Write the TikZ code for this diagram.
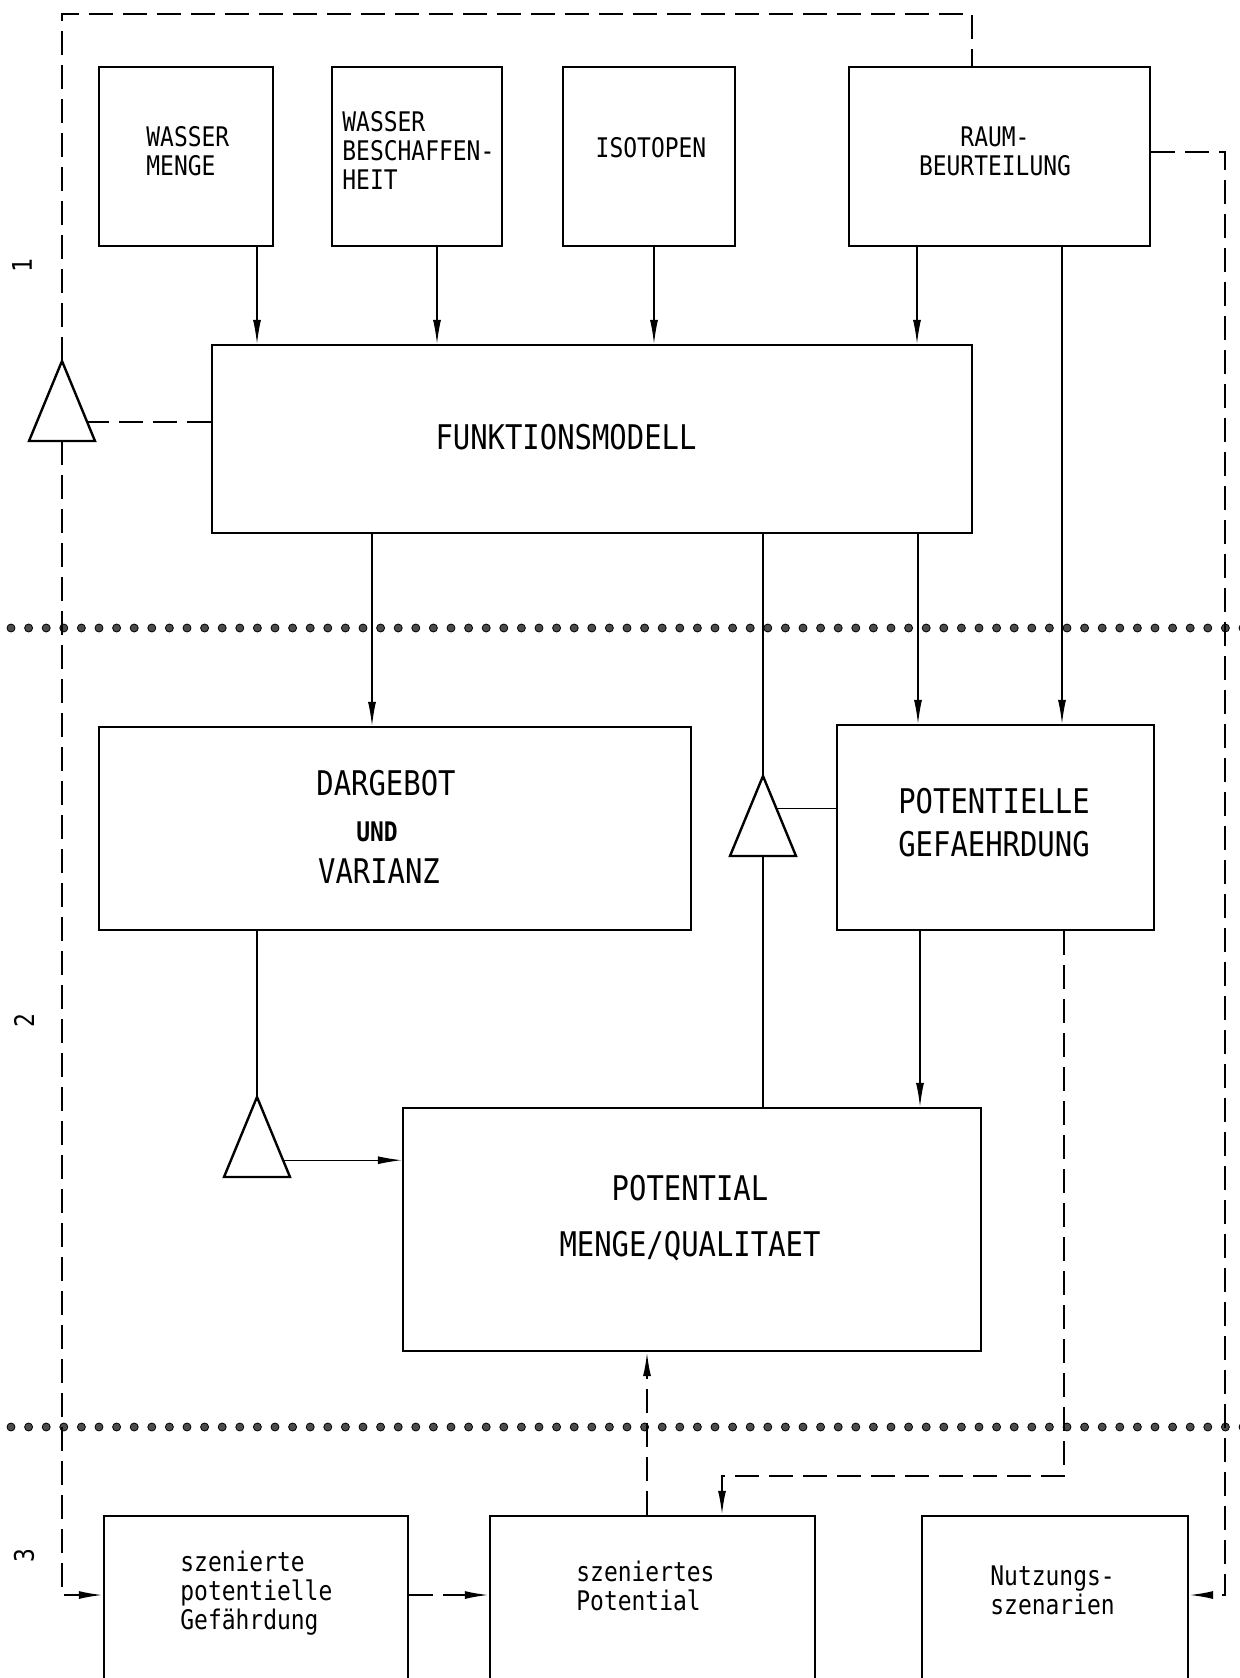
\documentclass[tikz,border=0pt]{standalone}
\usepackage{fontspec}
\setmonofont[FakeStretch=0.85]{DejaVu Sans Mono}
\usetikzlibrary{arrows.meta,calc}

\begin{document}
\begin{tikzpicture}
[
x=0.5pt, y=-0.5pt,
box-a/.style={draw, line width=1.2pt, inner sep=0pt},
text-a/.style={font=\ttfamily\fontsize{13.5}{14.5}\selectfont, align=left, inner sep=0pt},
text-b/.style={font=\ttfamily\fontsize{17}{21.5}\selectfont, align=left, inner sep=0pt},
conn-a/.style={line width=0.6pt},
dash-a/.style={line width=0.9pt, dash pattern=on 12pt off 5pt},
arr-a/.style={-{Latex[length=12pt,width=4pt]}},
tri-line/.style={line width=1.2pt, line join=miter},
dot-a/.style={fill=black!70, draw=black, line width=0.4pt}
]
\useasboundingbox (0,0) rectangle (1240,1678);

% level 1
\node (box-wm)     [box-a, minimum width=87pt,    minimum height=89.5pt]  at (186,156.5)   {};
\node (box-wb)     [box-a, minimum width=85pt,    minimum height=89.5pt]  at (417,156.5)   {};
\node (box-iso)    [box-a, minimum width=86pt,    minimum height=89.5pt]  at (649,156.5)   {};
\node (box-raum)   [box-a, minimum width=150.5pt, minimum height=89.5pt]  at (999.5,156.5) {};
\node (box-funk)   [box-a, minimum width=380pt,   minimum height=94pt]    at (592,439)     {};
\node (txt-wm)     [text-a, anchor=west]   at (146,151.5) {WASSER\\MENGE};
\node (txt-wb)     [text-a, anchor=west]   at (342,150)   {WASSER\\BESCHAFFEN-\\HEIT};
\node (txt-iso)    [text-a]                at (651,148)   {ISOTOPEN};
\node (txt-raum)   [text-a, align=center]  at (995,151.5) {RAUM-\\BEURTEILUNG};
\node (txt-funk)   [text-b]                at (566,437)   {FUNKTIONSMODELL};

% level 2
\node (box-darg)   [box-a, minimum width=296pt,   minimum height=101.5pt] at (395,828.5)   {};
\node (box-potgef) [box-a, minimum width=158.5pt, minimum height=102.5pt] at (995.5,827.5) {};
\node (box-potmq)  [box-a, minimum width=289pt,   minimum height=121.5pt] at (692,1229.5)  {};
\node (txt-darg-a) [text-b]                at (386,783)    {DARGEBOT};
\node (txt-darg-b) [text-a, font=\ttfamily\bfseries\fontsize{13.5}{14.5}\selectfont] at (377,832) {UND};
\node (txt-darg-c) [text-b]                at (379,871)    {VARIANZ};
\node (txt-potgef) [text-b]                at (994,822.5)  {POTENTIELLE\\GEFAEHRDUNG};
\node (txt-potmq-a)[text-b]                at (690,1188)   {POTENTIAL};
\node (txt-potmq-b)[text-b]                at (690,1246)   {MENGE/QUALITAET};

% level 3
\node (box-szgef)  [box-a, minimum width=152pt,   minimum height=92pt]    at (256,1608)    {};
\node (box-szpot)  [box-a, minimum width=162.5pt, minimum height=92pt]    at (652.5,1608)  {};
\node (box-nutz)   [box-a, minimum width=133pt,   minimum height=92pt]    at (1055,1608)   {};
\node (txt-szgef)  [text-a, anchor=west]   at (180,1593)    {szenierte\\potentielle\\Gefährdung};
\node (txt-szpot)  [text-a, anchor=west]   at (576,1585.5)  {szeniertes\\Potential};
\node (txt-nutz)   [text-a, anchor=west]   at (990,1590.5)  {Nutzungs-\\szenarien};

% level numbers
\node (lab-1) [text-a, rotate=90] at (22,266)  {1};
\node (lab-2) [text-a, rotate=90] at (24,1021) {2};
\node (lab-3) [text-a, rotate=90] at (24,1556) {3};

% separators
\foreach \i in {0,...,70} {
  \filldraw [dot-a] (11+17.6*\i,628)  circle [radius=2pt];
  \filldraw [dot-a] (11+17.6*\i,1427) circle [radius=2pt];
}

% triangles
\foreach \n/\x/\y in {a/62/361, b/763/776, c/257/1097} {
  \coordinate (tri-\n-top) at (\x,\y);
  \coordinate (tri-\n-l)   at (\x-33,\y+80);
  \coordinate (tri-\n-r)   at (\x+33,\y+80);
  \coordinate (tri-\n-bot) at (\x,\y+80);
  \draw [tri-line] (tri-\n-top) -- (tri-\n-r) -- (tri-\n-l) -- cycle;
}
\coordinate (tri-a-side) at ($(tri-a-top)!0.76!(tri-a-r)$);
\coordinate (tri-b-side) at ($(tri-b-top)!0.41!(tri-b-r)$);
\coordinate (tri-c-side) at ($(tri-c-top)!0.79!(tri-c-r)$);

% solid connectors
\draw [conn-a, arr-a] (box-wm.south -| 257,0)   -- (257,0 |- box-funk.north);
\draw [conn-a, arr-a] (box-wb.south -| 437,0)   -- (437,0 |- box-funk.north);
\draw [conn-a, arr-a] (box-iso.south -| 654,0)  -- (654,0 |- box-funk.north);
\draw [conn-a, arr-a] (box-raum.south -| 917,0) -- (917,0 |- box-funk.north);
\draw [conn-a, arr-a] (box-funk.south -| 372,0) -- (372,0 |- box-darg.north);
\draw [conn-a]        (box-funk.south -| tri-b-top) -- (tri-b-top);
\draw [conn-a, arr-a] (box-funk.south -| 918,0) -- (918,0 |- box-potgef.north);
\draw [conn-a, arr-a] (box-raum.south -| 1062,0) -- (1062,0 |- box-potgef.north);
\draw [conn-a]        (box-potgef.west |- tri-b-side) -- (tri-b-side);
\draw [conn-a]        (tri-b-bot) -- (tri-b-bot |- box-potmq.north);
\draw [conn-a, arr-a] (box-potgef.south -| 920,0) -- (920,0 |- box-potmq.north);
\draw [conn-a]        (box-darg.south -| tri-c-top) -- (tri-c-top);
\draw [conn-a, arr-a] (tri-c-side) -- (tri-c-side -| box-potmq.west);

% dashed connectors
\coordinate (c-top)   at (972,14);
\coordinate (c-left)  at (62,1595);
\coordinate (c-right) at (1225,1595);
\coordinate (c-pg)    at (1064,1476);
\coordinate (c-mid)   at (722,1476);
\draw [dash-a] (tri-a-top) |- (c-top) -- (c-top |- box-raum.north);
\draw [dash-a] (box-funk.west |- tri-a-side) -- (tri-a-side);
\draw [dash-a, arr-a] (tri-a-bot) -- (c-left) -- (c-left -| box-szgef.west);
\draw [dash-a, arr-a] (box-raum.east |- 0,152) -| (c-right) -- (c-right -| box-nutz.east);
\draw [dash-a, arr-a] (c-left -| box-szgef.east) -- (c-left -| box-szpot.west);
\draw [dash-a, arr-a] (box-szpot.north -| 647,0) -- (647,0 |- box-potmq.south);
\draw [dash-a, arr-a] (c-pg |- box-potgef.south) -- (c-pg) -- (c-mid) -- (c-mid |- box-szpot.north);

\end{tikzpicture}
\end{document}
